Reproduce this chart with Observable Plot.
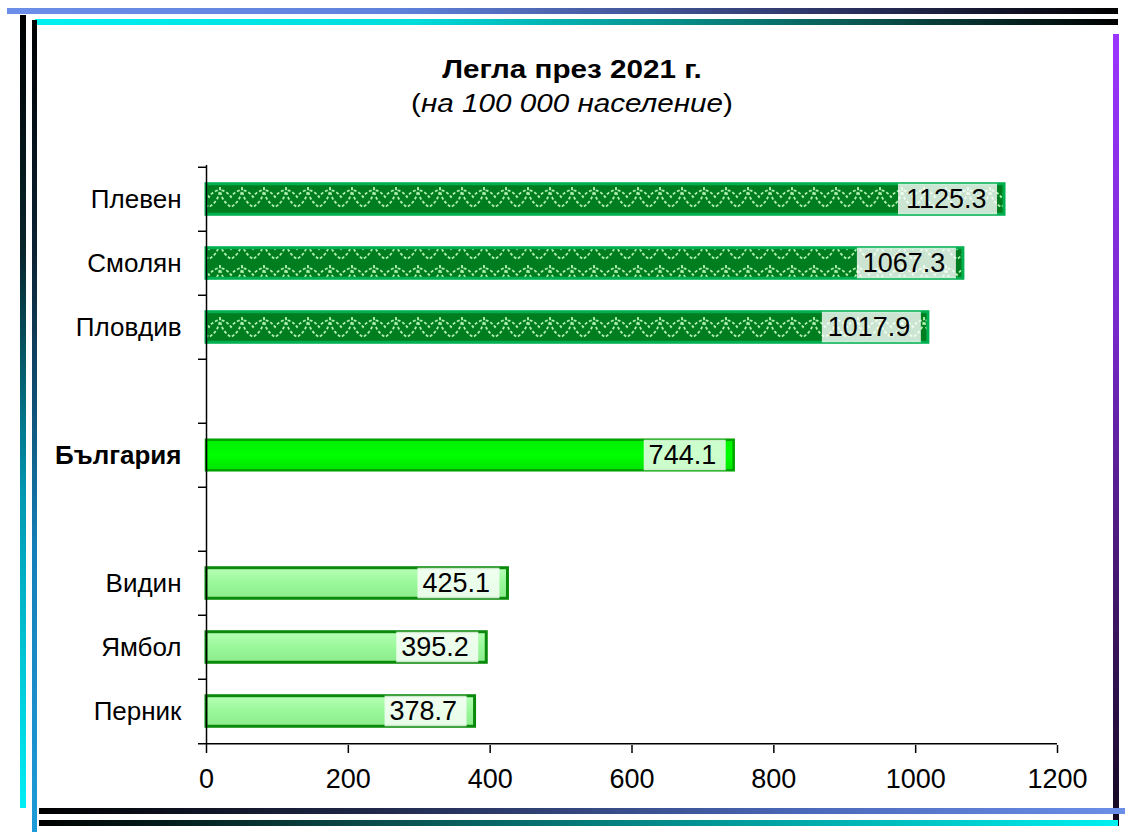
<!DOCTYPE html>
<html>
<head>
<meta charset="utf-8">
<script src="https://cdn.jsdelivr.net/npm/d3@7"></script>
<script src="https://cdn.jsdelivr.net/npm/@observablehq/plot@0.6"></script>
<style>
  html, body { margin: 0; padding: 0; background: #fff; }
  body { width: 1125px; height: 832px; position: relative; overflow: hidden; font-family: Arial, "Liberation Sans", sans-serif; }
  .deco { position: absolute; }
  .title { position: absolute; left: 0; width: 1144px; text-align: center; font-size: 26px; line-height: 26px; color: #000; transform: scaleX(1.14); transform-origin: 572px 0; }
  #chart { position: absolute; left: 0; top: 130px; }
</style>
</head>
<body>
<div class="deco" style="left:7px;top:8px;width:1111px;height:6px;background:linear-gradient(to right,#6b8ee8 0%,#5f82dc 35%,#2b3262 75%,#000 100%);"></div>
<div class="deco" style="left:35px;top:19px;width:1083px;height:6px;background:linear-gradient(to right,#00f0f0 0%,#00dcdc 35%,#0b5a55 75%,#000 100%);"></div>
<div class="deco" style="left:20px;top:15px;width:6px;height:793px;background:linear-gradient(to bottom,#000 0%,#08262c 30%,#0097b0 60%,#00eef4 100%);"></div>
<div class="deco" style="left:32px;top:20px;width:5px;height:812px;background:linear-gradient(to bottom,#000 0%,#0c2436 30%,#137fb8 65%,#1e9bd8 100%);"></div>
<div class="deco" style="left:1113px;top:34px;width:6px;height:792px;background:linear-gradient(to bottom,#9b35ff 0%,#7a2ad0 35%,#3a1560 75%,#140820 100%);"></div>
<div class="deco" style="left:39px;top:808px;width:1086px;height:6px;background:linear-gradient(to right,#000 0%,#1f2748 30%,#4a68b8 70%,#6b8ee8 100%);"></div>
<div class="deco" style="left:39px;top:820px;width:1079px;height:6px;background:linear-gradient(to right,#000 0%,#0a4a48 30%,#00a8a8 70%,#00f0f0 100%);"></div>

<div class="title" style="top:56px;font-weight:bold;">Легла през 2021 г.</div>
<div class="title" style="top:90px;">(<i>на 100 000 население</i>)</div>
<div id="chart"></div>

<script>
// ---- data ----
const regionsHigh = ["Плевен", "Смолян", "Пловдив"];
const valuesHigh = [1125.3, 1067.3, 1017.9];
const nationName = "България";
const nationValue = 744.1;
const regionsLow = ["Видин", "Ямбол", "Перник"];
const valuesLow = [425.1, 395.2, 378.7];
const xTicks = [0, 200, 400, 600, 800, 1000, 1200];
const gapA = "\u00a0", gapB = "\u00a0\u00a0";

// ---- derived table ----
const rows = [
  ...regionsHigh.map((name, i) => ({name, value: valuesHigh[i], group: "high"})),
  {name: nationName, value: nationValue, group: "nation"},
  ...regionsLow.map((name, i) => ({name, value: valuesLow[i], group: "low"}))
];
const categories = [...regionsHigh, gapA, nationName, gapB, ...regionsLow];

const W = 1125, H = 700, mT = 35, mB = 85, mL = 206, mR = 68;
const bw = (H - mT - mB) / categories.length;
const barH = 31;
const inset = (bw - barH) / 2;
const fsCat = 26, fsVal = 27, fsTick = 27;

const high = rows.filter(d => d.group === "high");
const nation = rows.filter(d => d.group === "nation");
const low = rows.filter(d => d.group === "low");
const fmt = d => d.value.toFixed(1);

const plot = Plot.plot({
  width: W, height: H,
  marginTop: mT, marginBottom: mB, marginLeft: mL, marginRight: mR,
  style: {fontFamily: "Arial, 'Liberation Sans', sans-serif", fontSize: fsCat + "px", color: "#000", background: "transparent", overflow: "visible"},
  x: {domain: [xTicks[0], xTicks[xTicks.length - 1]], axis: null},
  y: {domain: categories, padding: 0, axis: null},
  marks: [
    // bars
    Plot.barX(high, {x: "value", y: "name", fill: "url(#scalePat)", stroke: "#00b050", strokeWidth: 3, insetTop: inset, insetBottom: inset}),
    Plot.barX(nation, {x: "value", y: "name", fill: "url(#nationGrad)", stroke: "#00a400", strokeWidth: 2.5, insetTop: inset, insetBottom: inset}),
    Plot.barX(low, {x: "value", y: "name", fill: "url(#lowGrad)", stroke: "#0a8a0a", strokeWidth: 3, insetTop: inset, insetBottom: inset}),
    // label boxes
    Plot.rect(high, {x1: "value", x2: "value", y: "name", fill: "white", fillOpacity: 0.8, insetLeft: -106, insetRight: 7, insetTop: inset, insetBottom: inset}),
    Plot.rect([...nation, ...low], {x1: "value", x2: "value", y: "name", fill: "white", fillOpacity: 0.8, insetLeft: -90, insetRight: 8, insetTop: inset, insetBottom: inset}),
    // value labels
    Plot.text(rows, {x: "value", y: "name", text: fmt, textAnchor: "end", dx: -18, fontSize: fsVal, fill: "#000"}),
    // category labels
    Plot.text(rows.filter(d => d.group !== "nation"), {x: 0, y: "name", text: "name", textAnchor: "end", dx: -25, fontSize: fsCat, fill: "#000"}),
    Plot.text(nation, {x: 0, y: "name", text: "name", textAnchor: "end", dx: -25, fontSize: fsCat, fontWeight: "bold", fill: "#000"}),
    // y axis line and boundary ticks
    Plot.ruleX([0], {stroke: "#000", strokeWidth: 1.5}),
    Plot.ruleY(categories, {y: d => d, x1: 0, x2: 0, dy: -bw / 2, insetLeft: -8, stroke: "#000", strokeWidth: 1.5}),
    // x axis line (bottom boundary) and ticks
    Plot.ruleY([categories[categories.length - 1]], {y: d => d, x1: xTicks[0], x2: xTicks[xTicks.length - 1], dy: bw / 2, insetLeft: -8, stroke: "#000", strokeWidth: 1.5}),
    Plot.axisX({ticks: xTicks, label: null, tickSize: 8, tickPadding: 15, tickFormat: d => String(d), fontSize: fsTick, stroke: "#000", strokeWidth: 1.5, fill: "#000"})
  ]
});

// pattern/gradient definitions
const svgNS = "http://www.w3.org/2000/svg";
const defs = document.createElementNS(svgNS, "defs");
defs.innerHTML = `
  <pattern id="scalePat" patternUnits="userSpaceOnUse" width="22" height="26" x="0" y="2">
    <rect width="22" height="26" fill="#007d1e"/>
    <path d="M0,3 C0,14 6,20 11,23 C16,20 22,14 22,3" fill="none" stroke="#b0f0b0" stroke-width="1.8" stroke-dasharray="3 2"/>
    <path d="M-11,13 C-5,4 5,4 11,13 C17,4 27,4 33,13" fill="none" stroke="#b0f0b0" stroke-width="1.8" stroke-dasharray="3 2"/>
  </pattern>
  <linearGradient id="nationGrad" x1="0" y1="0" x2="0" y2="1">
    <stop offset="0" stop-color="#00f000"/>
    <stop offset="0.5" stop-color="#00ff00"/>
    <stop offset="1" stop-color="#00e400"/>
  </linearGradient>
  <linearGradient id="lowGrad" x1="0" y1="0" x2="0" y2="1">
    <stop offset="0" stop-color="#b8ffb8"/>
    <stop offset="0.5" stop-color="#99f899"/>
    <stop offset="1" stop-color="#8cec8c"/>
  </linearGradient>`;
plot.insertBefore(defs, plot.firstChild);
document.getElementById("chart").appendChild(plot);
</script>
</body>
</html>
